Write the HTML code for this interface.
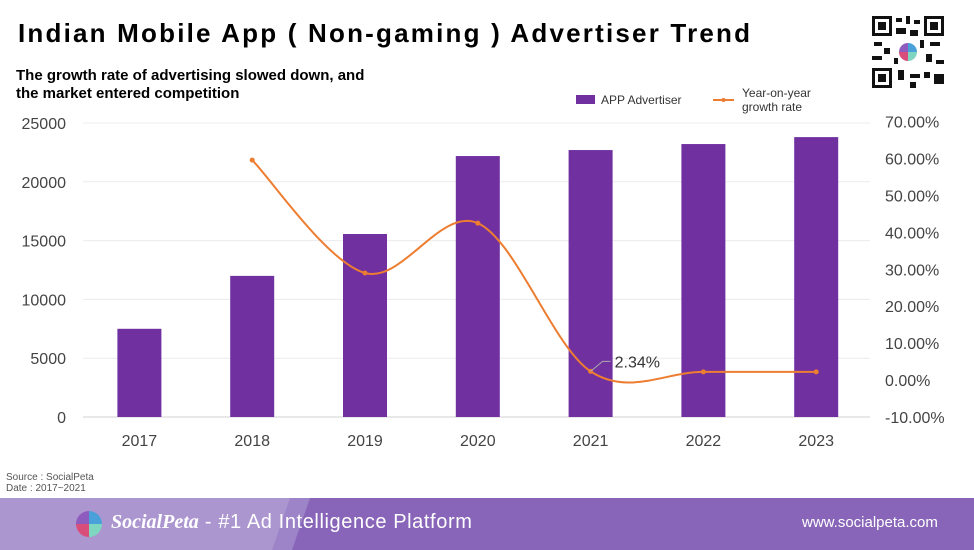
<!DOCTYPE html>
<html><head><meta charset="utf-8"><style>
body{margin:0;width:974px;height:550px;overflow:hidden;background:#fff;font-family:"Liberation Sans",sans-serif;position:relative}
.t{position:absolute;white-space:nowrap}
</style></head><body>
<div class="t" style="left:18px;top:18px;font-size:26px;font-weight:bold;letter-spacing:2.2px;color:#000">Indian Mobile App ( Non-gaming ) Advertiser Trend</div>
<div class="t" style="left:16px;top:67px;font-size:15px;font-weight:bold;line-height:18px;color:#000">The growth rate of advertising slowed down, and<br>the market entered competition</div>
<svg style="position:absolute;left:870px;top:14px" width="76" height="76" viewBox="0 0 76 76">
<rect width="76" height="76" fill="#fff"/>
<g fill="#111">
<rect x="2" y="2" width="20" height="20"/><rect x="54" y="2" width="20" height="20"/><rect x="2" y="54" width="20" height="20"/>
<rect x="26" y="4" width="6" height="4"/><rect x="36" y="2" width="4" height="8"/><rect x="44" y="6" width="6" height="4"/>
<rect x="4" y="28" width="8" height="4"/><rect x="14" y="34" width="6" height="6"/><rect x="2" y="42" width="10" height="4"/>
<rect x="26" y="14" width="10" height="6"/><rect x="40" y="16" width="8" height="6"/><rect x="60" y="28" width="10" height="4"/>
<rect x="56" y="40" width="6" height="8"/><rect x="66" y="46" width="8" height="4"/><rect x="28" y="56" width="6" height="10"/>
<rect x="40" y="60" width="10" height="4"/><rect x="54" y="58" width="6" height="6"/><rect x="64" y="60" width="10" height="10"/>
<rect x="40" y="68" width="6" height="6"/><rect x="24" y="44" width="4" height="6"/><rect x="50" y="26" width="4" height="8"/>
</g>
<g fill="#fff"><rect x="5" y="5" width="14" height="14"/><rect x="57" y="5" width="14" height="14"/><rect x="5" y="57" width="14" height="14"/></g>
<g fill="#111"><rect x="8" y="8" width="8" height="8"/><rect x="60" y="8" width="8" height="8"/><rect x="8" y="60" width="8" height="8"/></g>
<circle cx="38" cy="38" r="11" fill="#fff"/>
<path d="M38 38 L38 29 A9 9 0 0 1 47 38Z" fill="#4aa0d8"/><path d="M38 38 L47 38 A9 9 0 0 1 38 47Z" fill="#7fd6c0"/>
<path d="M38 38 L38 47 A9 9 0 0 1 29 38Z" fill="#d94d7a"/><path d="M38 38 L29 38 A9 9 0 0 1 38 29Z" fill="#8e5bbf"/>
</svg>
<svg id="chart" style="position:absolute;left:0;top:0" width="974" height="460"></svg>
<div class="t" style="left:6px;top:472px;font-size:10px;line-height:11px;color:#555">Source : SocialPeta<br>Date : 2017~2021</div>
<div style="position:absolute;left:0;top:498px;width:974px;height:52px;background:#ac96d0">
<div style="position:absolute;left:0;top:0;width:974px;height:52px;background:#9d84c8;clip-path:polygon(290px 0,974px 0,974px 52px,272px 52px)"></div>
<div style="position:absolute;left:0;top:0;width:974px;height:52px;background:#8865b8;clip-path:polygon(310px 0,974px 0,974px 52px,292px 52px)"></div>
<svg style="position:absolute;left:74px;top:12px" width="30" height="28" viewBox="0 0 30 28">
<path d="M15 14 L15 1 A13 13 0 0 1 28 14Z" fill="#4aa0d8"/><path d="M15 14 L28 14 A13 13 0 0 1 15 27Z" fill="#7fd6c0"/>
<path d="M15 14 L15 27 A13 13 0 0 1 2 14Z" fill="#d94d7a"/><path d="M15 14 L2 14 A13 13 0 0 1 15 1Z" fill="#8e5bbf"/></svg>
<div class="t" style="left:111px;top:13px;font-size:20px;letter-spacing:0.6px;color:#fff"><b style="font-family:'Liberation Serif',serif;font-style:italic;letter-spacing:0">SocialPeta</b> - #1 Ad Intelligence Platform</div>
<div class="t" style="left:802px;top:16px;font-size:15px;color:#fff">www.socialpeta.com</div>
</div>
<script>
const categories=["2017","2018","2019","2020","2021","2022","2023"];
const advertisers=[7500,12000,15560,22190,22700,23210,23800];
const growthYears=["2018","2019","2020","2021","2022","2023"];
const growthRates=[59.6,29.0,42.5,2.34,2.2,2.2];
const leftTicks=[0,5000,10000,15000,20000,25000];
const rightTicks=[-10,0,10,20,30,40,50,60,70];
const NS="http://www.w3.org/2000/svg";
const svg=document.getElementById('chart');
function el(t,a,p){const e=document.createElementNS(NS,t);for(const k in a)e.setAttribute(k,a[k]);(p||svg).appendChild(e);return e;}
const x0=83,step=112.8;
const xS=i=>x0+step*(i+0.5);
const yL=v=>417-v/25000*294;
const yR=v=>380-v*3.69;
leftTicks.forEach(v=>{
  const g=el('line',{x1:83,x2:870,y1:yL(v),y2:yL(v),stroke:v===0?'#d0d0d0':'#ececec','stroke-width':1});
  
  
  const t=el('text',{x:66,y:yL(v)+6,'text-anchor':'end','font-size':16,fill:'#444','font-family':'Liberation Sans,sans-serif'});
  t.textContent=v;
  
  
});
rightTicks.forEach(v=>{
  const t=el('text',{x:885,y:yR(v)+6,'font-size':16,fill:'#444','font-family':'Liberation Sans,sans-serif'});
  t.textContent=v.toFixed(2)+'%';
  
  
});
categories.forEach((c,i)=>{
  const r=el('rect',{x:xS(i)-22,y:yL(advertisers[i]),width:44,height:417-yL(advertisers[i]),fill:'#7030a0'});
  
  
  const t=el('text',{x:xS(i),y:446,'text-anchor':'middle','font-size':16,fill:'#444','font-family':'Liberation Sans,sans-serif'});
  t.textContent=c;
  
  
});
const pts=growthRates.map((v,i)=>[xS(categories.indexOf(growthYears[i])),yR(v)]);
let d='M'+pts[0][0]+','+pts[0][1];
for(let i=0;i<pts.length-1;i++){
  const p0=pts[i-1]||pts[i],p1=pts[i],p2=pts[i+1],p3=pts[i+2]||p2,k=1/6;
  d+=' C'+(p1[0]+(p2[0]-p0[0])*k)+','+(p1[1]+(p2[1]-p0[1])*k)+' '+(p2[0]-(p3[0]-p1[0])*k)+','+(p2[1]-(p3[1]-p1[1])*k)+' '+p2[0]+','+p2[1];
}
const line=el('path',{d:d,fill:'none',stroke:'#ed7d31','stroke-width':2});


pts.forEach(p=>{
  const c=el('circle',{cx:p[0],cy:p[1],r:2.5,fill:'#ed7d31'});
  
  
});
const li=growthYears.indexOf("2021");
const lp=pts[li];
const ll=el('path',{d:`M${lp[0]},${lp[1]} L${lp[0]+12},${lp[1]-10} L${lp[0]+20},${lp[1]-10}`,fill:'none',stroke:'#aaa','stroke-width':1});


const lt=el('text',{x:lp[0]+24,y:lp[1]-4,'font-size':16,fill:'#333','font-family':'Liberation Sans,sans-serif'});
lt.textContent=growthRates[li].toFixed(2)+'%';


const lg=el('rect',{x:576,y:95,width:19,height:9,fill:'#7030a0'});


const lgt=el('text',{x:601,y:104,'font-size':12,fill:'#333','font-family':'Liberation Sans,sans-serif'});
lgt.textContent='APP Advertiser';


const lgl=el('line',{x1:713,x2:734,y1:100,y2:100,stroke:'#ed7d31','stroke-width':2});


const lgc=el('circle',{cx:723.5,cy:100,r:2,fill:'#ed7d31'});


const lg2=el('text',{x:742,y:97,'font-size':12,fill:'#333','font-family':'Liberation Sans,sans-serif'});
lg2.innerHTML='<tspan x="742">Year-on-year</tspan><tspan x="742" dy="14">growth rate</tspan>';


</script>
</body></html>
